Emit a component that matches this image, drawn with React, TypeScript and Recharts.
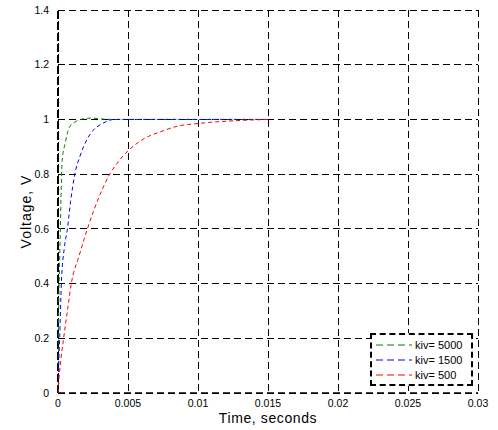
import React from 'react';
import { LineChart, Line, XAxis, YAxis, CartesianGrid, ReferenceLine } from 'recharts';

const xTicks = [0, 0.005, 0.01, 0.015, 0.02, 0.025, 0.03];
const yTicks = [0, 0.2, 0.4, 0.6, 0.8, 1, 1.2, 1.4];

// kiv = 5000
const tFast = [0, 0.00003, 0.00006, 0.0001, 0.00017, 0.00023, 0.0003, 0.0005, 0.0008, 0.0012, 0.0016, 0.0024, 0.003, 0.004, 0.006, 0.01, 0.015];
const vFast = [0, 0.22, 0.35, 0.45, 0.6, 0.75, 0.85, 0.91, 0.97, 0.99, 1.0, 1.005, 1.002, 1.0, 1.0, 1.0, 1.0];

// kiv = 1500
const tMid = [0, 0.00005, 0.00012, 0.00024, 0.00045, 0.00067, 0.0009, 0.0012, 0.0016, 0.002, 0.0025, 0.003, 0.0035, 0.004, 0.008, 0.012, 0.015];
const vMid = [0, 0.1, 0.2, 0.4, 0.53, 0.6, 0.7, 0.8, 0.87, 0.92, 0.96, 0.98, 0.993, 1.0, 1.0, 1.0, 1.0];

// kiv = 500
const tSlow = [0, 0.0001, 0.0002, 0.0004, 0.0007, 0.00095, 0.0015, 0.0021, 0.003, 0.0037, 0.0043, 0.005, 0.006, 0.0076, 0.0085, 0.01, 0.0125, 0.015];
const vSlow = [0, 0.07, 0.12, 0.2, 0.31, 0.4, 0.5, 0.6, 0.725, 0.8, 0.845, 0.885, 0.925, 0.96, 0.975, 0.985, 0.995, 1.0];

const series = [
  { name: 'kiv= 5000', color: '#008000', t: tFast, v: vFast },
  { name: 'kiv= 1500', color: '#0000ff', t: tMid, v: vMid },
  { name: 'kiv= 500', color: '#ff0000', t: tSlow, v: vSlow },
];

const FONT = '"Liberation Sans", Arial, sans-serif';

const LegendBox = () => (
  <div
    style={{
      position: 'absolute',
      left: 370,
      top: 333,
      width: 95,
      border: '2px dashed #000',
      background: '#fff',
      padding: '2px 0 2px 4px',
      fontFamily: FONT,
      fontSize: 11,
      color: '#000',
    }}
  >
    {series.map((s) => (
      <div key={s.name} style={{ display: 'flex', alignItems: 'center', height: 15 }}>
        <svg width={36} height={4} style={{ marginRight: 3 }}>
          <line x1={0} y1={2} x2={36} y2={2} stroke={s.color} strokeDasharray="7 4" />
        </svg>
        <span>{s.name}</span>
      </div>
    ))}
  </div>
);

export default function App() {
  return (
    <div style={{ position: 'absolute', left: 0, top: 0, width: 498, height: 430, background: '#fff' }}>
      <LineChart width={498} height={430} margin={{ top: 10, right: 20, bottom: 0, left: 0 }}>
        <CartesianGrid stroke="#000" strokeDasharray="7 4" strokeWidth={1} shapeRendering="crispEdges" />
        <ReferenceLine x={0} stroke="#000" strokeWidth={2} strokeDasharray="8 3" />
        <ReferenceLine y={0} stroke="#000" strokeWidth={1.5} strokeDasharray="7 4" />
        <XAxis
          type="number"
          dataKey="t"
          domain={[0, 0.03]}
          ticks={xTicks}
          allowDataOverflow
          axisLine={false}
          tickLine={false}
          tickMargin={1}
          height={37}
          tick={{ fontSize: 10.5, fill: '#000', fontFamily: FONT }}
          label={{ value: 'Time, seconds', position: 'insideBottom', offset: 7, fontSize: 14, letterSpacing: 0.6, fill: '#000', fontFamily: FONT }}
        />
        <YAxis
          type="number"
          domain={[0, 1.4]}
          ticks={yTicks}
          axisLine={false}
          tickLine={false}
          tickMargin={3}
          width={58}
          tick={{ fontSize: 10.5, fill: '#000', fontFamily: FONT }}
          label={{ value: 'Voltage, V', angle: -90, position: 'insideLeft', offset: 26, dy: 10, style: { textAnchor: 'middle' }, fontSize: 14, letterSpacing: 1, fill: '#000', fontFamily: FONT }}
        />
        {series.map((s) => (
          <Line
            key={s.name}
            name={s.name}
            data={s.t.map((t, i) => ({ t, v: s.v[i] }))}
            dataKey="v"
            type="monotone"
            stroke={s.color}
            strokeWidth={1}
            strokeDasharray="4 3"
            dot={false}
            isAnimationActive={false}
          />
        ))}
      </LineChart>
      <LegendBox />
    </div>
  );
}
